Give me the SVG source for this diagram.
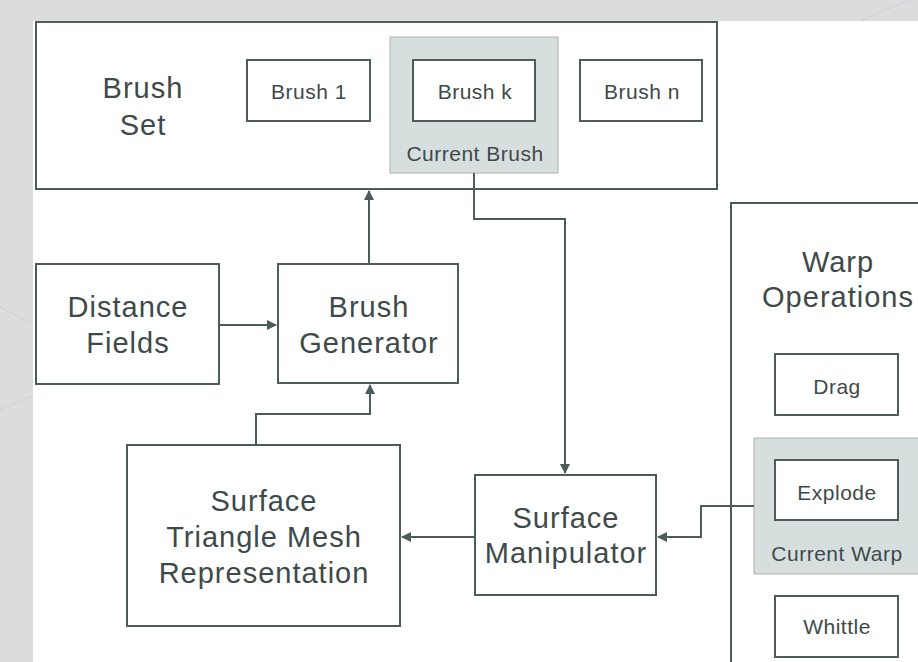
<svg xmlns="http://www.w3.org/2000/svg" width="918" height="662" viewBox="0 0 918 662">
<style>
.box{fill:#ffffff;stroke:#4e5b5b;stroke-width:2}
.shade{fill:#d7dfde;stroke:#a9b3b2;stroke-width:1}
.big{font-family:"Liberation Sans",Arial,sans-serif;font-size:29px;letter-spacing:1px;fill:#3e4a4a;text-anchor:middle}
.sm{font-family:"Liberation Sans",Arial,sans-serif;font-size:21px;letter-spacing:0.5px;fill:#3e4a4a;text-anchor:middle}
.conn{fill:none;stroke:#4e5b5b;stroke-width:2}
.deco{stroke:#b9c5e2;stroke-width:1;stroke-dasharray:2 2;fill:none}
</style>
<defs>
<marker id="arr" viewBox="0 0 10 10" refX="9" refY="5" markerWidth="5" markerHeight="5" orient="auto" markerUnits="strokeWidth">
<path d="M0,0 L10,5 L0,10 z" fill="#4e5b5b"/>
</marker>
</defs>
<rect x="0" y="0" width="918" height="662" fill="#dcdcdc"/>
<rect x="33" y="21" width="885" height="641" fill="#ffffff"/>
<line class="deco" x1="0" y1="307" x2="32" y2="323"/>
<line class="deco" x1="0" y1="410" x2="32" y2="396"/>
<line class="deco" x1="862" y1="20" x2="908" y2="0"/>

<g id="brush-set">
<rect class="box" x="36" y="22" width="681" height="167"/>
<text class="big" x="143" y="98">Brush</text>
<text class="big" x="143" y="135">Set</text>
</g>
<g id="brush-1">
<rect class="box" x="247" y="60" width="123" height="61"/>
<text class="sm" x="309" y="99">Brush 1</text>
</g>
<g id="current-brush">
<rect class="shade" x="390" y="37" width="168" height="136"/>
<rect class="box" x="413" y="60" width="122" height="61"/>
<text class="sm" x="475" y="99">Brush k</text>
<text class="sm" x="475" y="161">Current Brush</text>
</g>
<g id="brush-n">
<rect class="box" x="580" y="60" width="122" height="61"/>
<text class="sm" x="642" y="99">Brush n</text>
</g>
<g id="distance-fields">
<rect class="box" x="36" y="264" width="183" height="120"/>
<text class="big" x="128" y="317">Distance</text>
<text class="big" x="128" y="353">Fields</text>
</g>
<g id="brush-generator">
<rect class="box" x="278" y="264" width="180" height="119"/>
<text class="big" x="369" y="317">Brush</text>
<text class="big" x="369" y="353">Generator</text>
</g>
<g id="surface-triangle-mesh">
<rect class="box" x="127" y="445" width="273" height="181"/>
<text class="big" x="264" y="511">Surface</text>
<text class="big" x="264" y="547">Triangle Mesh</text>
<text class="big" x="264" y="583">Representation</text>
</g>
<g id="surface-manipulator">
<rect class="box" x="475" y="475" width="181" height="120"/>
<text class="big" x="566" y="528">Surface</text>
<text class="big" x="566" y="563">Manipulator</text>
</g>
<g id="warp-operations">
<rect class="box" x="731" y="203" width="200" height="470"/>
<text class="big" x="838" y="272">Warp</text>
<text class="big" x="838" y="307">Operations</text>
</g>
<g id="drag">
<rect class="box" x="775" y="354" width="123" height="61"/>
<text class="sm" x="837" y="394">Drag</text>
</g>
<g id="current-warp">
<rect class="shade" x="754" y="438" width="180" height="136"/>
<rect class="box" x="775" y="460" width="123" height="60"/>
<text class="sm" x="837" y="500">Explode</text>
<text class="sm" x="837" y="561">Current Warp</text>
</g>
<g id="whittle">
<rect class="box" x="775" y="596" width="123" height="61"/>
<text class="sm" x="837" y="634">Whittle</text>
</g>

<g id="connectors">
<path class="conn" d="M369,263 L369,191" marker-end="url(#arr)"/>
<path class="conn" d="M474,173 L474,219 L565,219 L565,473" marker-end="url(#arr)"/>
<path class="conn" d="M219,325 L276,325" marker-end="url(#arr)"/>
<path class="conn" d="M256,445 L256,414 L370,414 L370,385" marker-end="url(#arr)"/>
<path class="conn" d="M475,537 L402,537" marker-end="url(#arr)"/>
<path class="conn" d="M754,506 L701,506 L701,537 L658,537" marker-end="url(#arr)"/>
</g>
</svg>
